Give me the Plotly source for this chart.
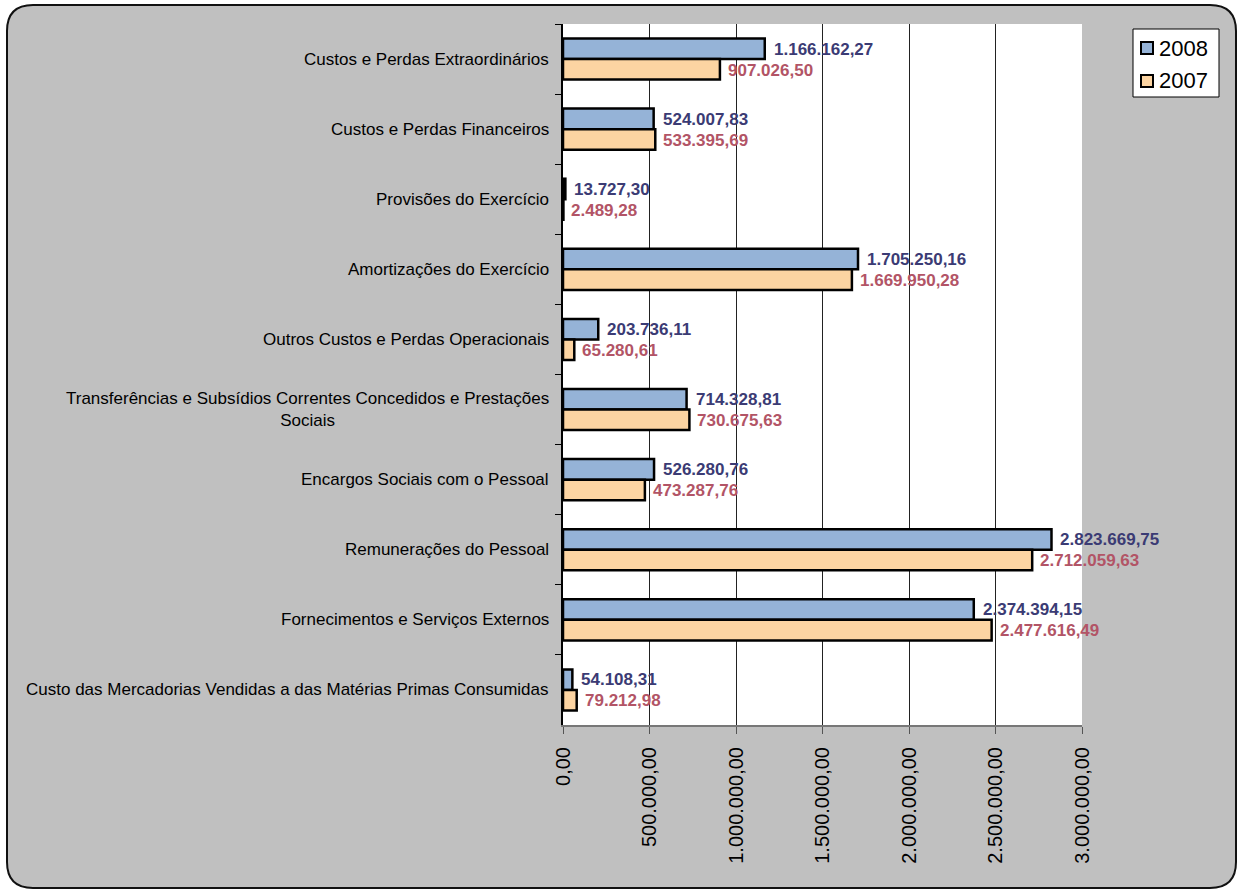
import plotly.graph_objects as go

categories = [
    "Custos e Perdas Extraordinários",
    "Custos e Perdas Financeiros",
    "Provisões do Exercício",
    "Amortizações do Exercício",
    "Outros Custos e Perdas Operacionais",
    "Transferências e Subsídios Correntes Concedidos e Prestações<br>Sociais",
    "Encargos Sociais com o Pessoal",
    "Remunerações do Pessoal",
    "Fornecimentos e Serviços Externos",
    "Custo das Mercadorias Vendidas a das Matérias Primas Consumidas",
]
values_2008 = [1166162.27, 524007.83, 13727.30, 1705250.16, 203736.11,
               714328.81, 526280.76, 2823669.75, 2374394.15, 54108.31]
values_2007 = [907026.50, 533395.69, 2489.28, 1669950.28, 65280.61,
               730675.63, 473287.76, 2712059.63, 2477616.49, 79212.98]
series_names = ["2008", "2007"]
tick_values = [0, 500000, 1000000, 1500000, 2000000, 2500000, 3000000]


def fmt_pt(v):
    s = f"{v:,.2f}"
    return s.replace(",", "X").replace(".", ",").replace("X", ".")


tick_text = [fmt_pt(v) for v in tick_values]

FONT = "Liberation Sans, Arial, sans-serif"
C08, C07 = "#95b3d7", "#fcd4a2"
L08, L07 = "#3b3b74", "#b25466"
W, H = 1242, 892
L, R, T, B = 563, 160, 24, 167
pw = W - L - R
ph = H - T - B


def px2paper(x, y):
    return (x - L) / pw, (H - B - y) / ph


fig = go.Figure()
fig.add_trace(go.Bar(
    name=series_names[0], y=categories, x=values_2008, orientation="h",
    marker=dict(color=C08, line=dict(color="black", width=2.5)),
))
fig.add_trace(go.Bar(
    name=series_names[1], y=categories, x=values_2007, orientation="h",
    marker=dict(color=C07, line=dict(color="black", width=2.5)),
))

annotations = []
for cat, v8, v7 in zip(categories, values_2008, values_2007):
    annotations.append(dict(x=v8, y=cat, xref="x", yref="y", text="<b>" + fmt_pt(v8) + "</b>",
                            showarrow=False, xanchor="left", xshift=7, yshift=10,
                            font=dict(family=FONT, size=17, color=L08)))
    annotations.append(dict(x=v7, y=cat, xref="x", yref="y", text="<b>" + fmt_pt(v7) + "</b>",
                            showarrow=False, xanchor="left", xshift=6, yshift=-11,
                            font=dict(family=FONT, size=17, color=L07)))
    annotations.append(dict(x=0, y=cat, xref="paper", yref="y", text=cat,
                            showarrow=False, xanchor="right", xshift=-12,
                            align="center",
                            font=dict(family=FONT, size=17, color="black")))


def P(x, y):
    a, b = px2paper(x, y)
    return f"{a:.5f},{b:.5f}"


# rounded background frame
x0, y0 = 7, 5
x1, y1 = 1236, 888
r = 26
path = (f"M{P(x0 + r, y0)} L{P(x1 - r, y0)} Q{P(x1, y0)} {P(x1, y0 + r)} "
        f"L{P(x1, y1 - r)} Q{P(x1, y1)} {P(x1 - r, y1)} "
        f"L{P(x0 + r, y1)} Q{P(x0, y1)} {P(x0, y1 - r)} "
        f"L{P(x0, y0 + r)} Q{P(x0, y0)} {P(x0 + r, y0)} Z")

shapes = [
    dict(type="path", xref="paper", yref="paper", path=path,
         fillcolor="#c0c0c0", line=dict(color="#111", width=2), layer="below"),
    dict(type="rect", xref="paper", yref="paper", x0=0, x1=1, y0=0, y1=1,
         fillcolor="white", line=dict(width=0), layer="below"),
]

# custom legend (Excel style)
lx0, ly0, lx1, ly1 = 1133, 29, 1219, 97
a0, b0 = px2paper(lx0, ly0)
a1, b1 = px2paper(lx1, ly1)
shapes.append(dict(type="rect", xref="paper", yref="paper", x0=a0, x1=a1, y0=b1, y1=b0,
                   fillcolor="white", line=dict(color="black", width=1), layer="above"))
for name, col, cy in [(series_names[0], C08, 48), (series_names[1], C07, 81)]:
    s0x, s0y = px2paper(1141, cy - 6)
    s1x, s1y = px2paper(1153, cy + 6)
    shapes.append(dict(type="rect", xref="paper", yref="paper", x0=s0x, x1=s1x,
                       y0=s1y, y1=s0y, fillcolor=col,
                       line=dict(color="black", width=2), layer="above"))
    tx, ty = px2paper(1157, cy)
    annotations.append(dict(x=tx, y=ty, xref="paper", yref="paper", text=name,
                            showarrow=False, xanchor="left", yanchor="middle",
                            font=dict(family=FONT, size=22, color="black")))

fig.update_layout(
    width=W, height=H,
    margin=dict(l=L, r=R, t=T, b=B),
    barmode="group", bargap=0.414, bargroupgap=0,
    paper_bgcolor="white", plot_bgcolor="rgba(0,0,0,0)",
    font=dict(family=FONT, color="black"),
    shapes=shapes,
    annotations=annotations,
    showlegend=False,
    xaxis=dict(range=[0, 3000000], tickvals=tick_values, ticktext=tick_text,
               tickangle=-90, ticks="outside", ticklen=7, tickcolor="#555",
               showgrid=True, gridcolor="#222", gridwidth=1,
               showline=True, linecolor="#777", linewidth=2,
               zeroline=False, ticklabelstandoff=5,
               tickfont=dict(family=FONT, size=20, color="black"), fixedrange=True),
    yaxis=dict(categoryorder="array", categoryarray=categories, autorange="reversed",
               showticklabels=False, ticks="outside", tickson="boundaries",
               ticklen=6, tickcolor="black", showline=True, linecolor="black",
               linewidth=1.5, showgrid=False, zeroline=False, fixedrange=True),
)

fig.write_html(
    "out.html",
    config={"displayModeBar": False},
    post_script="document.body.style.margin='0px';document.body.style.padding='0px';"
                "document.body.style.overflow='hidden';",
)
